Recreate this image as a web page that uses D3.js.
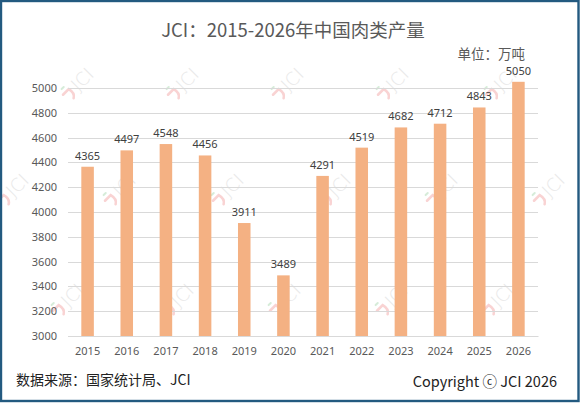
<!DOCTYPE html>
<html><head><meta charset="utf-8">
<script src="https://cdn.jsdelivr.net/npm/d3@7"></script>
<style>body{margin:0;background:#fff}svg{display:block}</style>
</head><body>
<script>
const categories = ["2015","2016","2017","2018","2019","2020","2021","2022","2023","2024","2025","2026"];
const values = [4365,4497,4548,4456,3911,3489,4291,4519,4682,4712,4843,5050];
const yTicks = [3000,3200,3400,3600,3800,4000,4200,4400,4600,4800,5000];
const titleText = "JCI：2015-2026年中国肉类产量";
const unitText = "单位：万吨";
const sourceText = "数据来源：国家统计局、JCI";
const copyrightText = "Copyright ⓒ JCI  2026";

(function () {
const W = 580, H = 403;
const svg = d3.select("body").append("svg").attr("width", W).attr("height", H);
svg.append("rect").attr("width", W).attr("height", H).attr("fill", "#fff");

const pLeft = 68, pRight = 538, pTop = 88, pBottom = 336;
const x = d3.scaleBand().domain(categories).range([pLeft, pRight]).paddingInner(0.68).paddingOuter(0.34);
const y = d3.scaleLinear().domain([3000, 5000]).range([pBottom, pTop]);

// watermarks
const wmRows = [
  {y: 82, xs: [80, 185, 290, 395, 503]},
  {y: 188, xs: [15, 122, 230, 337, 444, 551]},
  {y: 298, xs: [70, 180, 287, 394, 500]}
];
const wm = svg.append("g").attr("class", "watermarks");
wmRows.forEach(r => r.xs.forEach(cx => {
  const g = wm.append("g").attr("transform", `translate(${cx},${r.y}) rotate(-45)`);
  g.append("path").attr("d", "M-21,-3 L-13,-3 Q-11,4 -16,7").attr("fill", "none")
    .attr("stroke", "#f9d3d3").attr("stroke-width", 2.6).attr("stroke-linecap", "round");
  g.append("path").attr("d", "M-18,-8 L-15,-8").attr("stroke", "#d6ecd9").attr("stroke-width", 2).attr("stroke-linecap", "round");
  g.append("text").attr("x", -8).attr("y", 6).text("JCI")
    .attr("font-family", "DejaVu Sans, sans-serif").attr("font-size", 18).attr("font-weight", 300)
    .attr("fill", "#e8e8e8");
}));

// gridlines
svg.append("g").selectAll("line").data(yTicks).join("line")
  .attr("x1", pLeft).attr("x2", pRight)
  .attr("y1", d => Math.round(y(d)) + 0.5).attr("y2", d => Math.round(y(d)) + 0.5)
  .attr("stroke", "#d9d9d9").attr("stroke-width", 1);

// y axis labels
const yAxis = d3.axisLeft(y).tickValues(yTicks).tickSize(0).tickPadding(11).tickFormat(d3.format("d"));
const ya = svg.append("g").attr("transform", `translate(${pLeft},0)`).call(yAxis);
ya.select(".domain").remove();
ya.selectAll("text").attr("font-family", "Noto Sans, sans-serif").attr("font-size", 11).attr("fill", "#595959");

// bars
svg.append("g").selectAll("rect").data(values).join("rect")
  .attr("x", (d, i) => x(categories[i]))
  .attr("width", x.bandwidth())
  .attr("y", d => y(d))
  .attr("height", d => y(3000) - y(d))
  .attr("fill", "#f4b183");

// value labels
svg.append("g").selectAll("text").data(values).join("text")
  .attr("x", (d, i) => x(categories[i]) + x.bandwidth() / 2)
  .attr("y", d => y(d) - 7)
  .attr("text-anchor", "middle")
  .attr("font-family", "Noto Sans, sans-serif").attr("font-size", 11).attr("fill", "#404040")
  .text(d => d);

// x axis
const xAxis = d3.axisBottom(x).tickSize(0).tickPadding(11);
const xa = svg.append("g").attr("transform", `translate(0,${pBottom})`).call(xAxis);
xa.select(".domain").attr("stroke", "#d9d9d9");
xa.selectAll("text").attr("font-family", "Noto Sans, sans-serif").attr("font-size", 11).attr("fill", "#595959");

// texts
svg.append("text").attr("x", 293).attr("y", 37).attr("text-anchor", "middle")
  .attr("font-family", "Noto Sans CJK SC, sans-serif").attr("font-size", 18.5).attr("fill", "#595959").text(titleText);
svg.append("text").attr("x", 525).attr("y", 59).attr("text-anchor", "end")
  .attr("font-family", "Noto Sans CJK SC, sans-serif").attr("font-size", 13.5).attr("fill", "#595959").text(unitText);
svg.append("text").attr("x", 16).attr("y", 385)
  .attr("font-family", "Noto Sans CJK SC, sans-serif").attr("font-size", 14).attr("fill", "#222").text(sourceText);
svg.append("text").attr("x", 557).attr("y", 387).attr("text-anchor", "end")
  .attr("font-family", "Noto Sans CJK SC, sans-serif").attr("font-size", 14.5).attr("fill", "#222").text(copyrightText);

// border
svg.append("rect").attr("x", 1).attr("y", 1).attr("width", W - 2.5).attr("height", H - 3)
  .attr("fill", "none").attr("stroke", "#235a80").attr("stroke-width", 2.4);
})();
</script>
</body></html>
